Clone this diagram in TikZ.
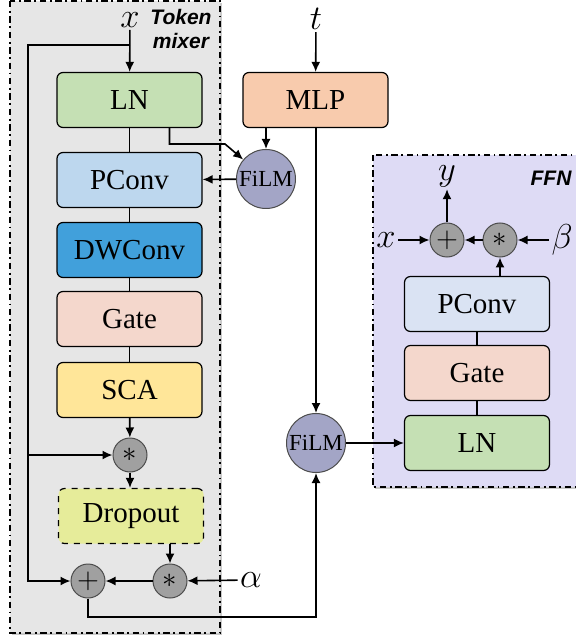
\documentclass[tikz,border=0pt]{standalone}
\usepackage{amsmath}
\usepackage{amssymb}
\usepackage{fontspec}
\setmainfont{Liberation Serif}
\newfontfamily\tagfont{Liberation Sans}
\usetikzlibrary{arrows.meta,shadows}

\definecolor{lngreen}{HTML}{C5E0B4}
\definecolor{pconvblue}{HTML}{BDD7EE}
\definecolor{dwblue}{HTML}{41A0DB}
\definecolor{gatepink}{HTML}{F4D7CC}
\definecolor{scayellow}{HTML}{FFE699}
\definecolor{dropgreen}{HTML}{E6EC9A}
\definecolor{mlppeach}{HTML}{F8CBAD}
\definecolor{filmpurple}{HTML}{A3A5C6}
\definecolor{opgray}{HTML}{A0A0A0}
\definecolor{mixergray}{HTML}{E6E6E6}
\definecolor{ffnlav}{HTML}{DEDBF5}
\definecolor{ffnblue}{HTML}{DAE3F3}

\begin{document}
\begin{tikzpicture}[x=0.5pt,y=-0.5pt]
\useasboundingbox (0,0) rectangle (576,641);
\tikzset{group/.style = {draw,line width=0.75pt,dash pattern=on 3.2pt off 1.8pt on 0.9pt off 1.8pt,
  drop shadow={shadow xshift=1.2pt,shadow yshift=-1.2pt,opacity=0.3,fill=black!70}}}
% containers
\draw[group,fill=mixergray] (10,1) rectangle (220,633);
\draw[group,fill=ffnlav] (373,155) rectangle (600,487);
\node[font=\tagfont\bfseries\itshape\fontsize{10.5}{12}\selectfont,align=center] (tmtag) at (181,29) {Token\\mixer};
\node[font=\tagfont\bfseries\itshape\fontsize{10.5}{12}\selectfont] (ffntag) at (551,178) {FFN};

\tikzset{block/.style = {shape=rectangle,draw,rounded corners=3pt,line width=0.6pt,
  minimum width=72.5pt,minimum height=27.5pt,font=\fontsize{14.5}{16}\selectfont}}
\tikzset{film/.style = {shape=circle,draw=black!70,fill=filmpurple,line width=0.5pt,
  minimum size=29.5pt,inner sep=0pt,font=\fontsize{11.5}{12}\selectfont}}
\tikzset{op/.style = {shape=circle,draw=black!70,fill=opgray,line width=0.5pt,
  minimum size=17pt,inner sep=0pt,font=\fontsize{14}{14}\selectfont}}
\tikzset{sym/.style = {inner sep=1pt,font=\fontsize{18}{20}\selectfont}}
% token mixer
\node[sym] (xin) at (130,20) {$x$};
\node[block,fill=lngreen] (ln) at (129.5,100) {LN};
\node[block,fill=pconvblue] (pconv) at (129.5,180) {PConv};
\node[block,fill=dwblue] (dwconv) at (129.5,250) {DWConv};
\node[block,fill=gatepink] (gate) at (129.5,319) {Gate};
\node[block,fill=scayellow] (sca) at (129.5,390) {SCA};
\node[op] (mul1) at (130,455) {$*$};
\node[block,fill=dropgreen,dashed] (dropout) at (131,516) {Dropout};
\node[op] (mul2) at (170,581) {$*$};
\node[op] (plus1) at (88,581) {$+$};
\node[sym] (alpha) at (251,580) {$\alpha$};
% conditioning
\node[sym] (tin) at (316,19) {$t$};
\node[block,fill=mlppeach] (mlp) at (315.5,100) {MLP};
\node[film] (film1) at (266,179) {FiLM};
\node[film] (film2) at (316,443) {FiLM};
% ffn
\node[block,fill=ffnblue] (fpconv) at (477,304) {PConv};
\node[block,fill=gatepink] (fgate) at (477,373) {Gate};
\node[block,fill=lngreen] (fln) at (477,443) {LN};
\node[op] (plus2) at (447,240) {$+$};
\node[op] (mul3) at (500,240) {$*$};
\node[sym] (yout) at (447,176) {$y$};
\node[sym] (xin2) at (386,240) {$x$};
\node[sym] (beta) at (562,240) {$\beta$};

\coordinate (skiptop) at (130,45);
\coordinate (skipl) at (28,45);
\coordinate (lnbend) at (225,144);
\coordinate (low) at (0,617);
%edges
\tikzset{edge/.style = {-{Latex[length=5pt,width=4.5pt]},line width=0.8pt}}
\tikzset{link/.style = {line width=0.8pt}}
\draw[edge] (xin) -- (ln);
\draw[edge] (skiptop) -- (skipl) |- (plus1);
\draw[edge] (skipl |- mul1) -- (mul1);
\draw[link] (ln) -- (pconv);
\draw[link] (pconv) -- (dwconv);
\draw[link] (dwconv) -- (gate);
\draw[link] (gate) -- (sca);
\draw[edge] (sca) -- (mul1);
\draw[edge] (mul1) -- (dropout.north -| mul1);
\draw[edge] (dropout.south -| mul2) -- (mul2);
\draw[edge] (mul2) -- (plus1);
\draw[edge] (alpha) -- (mul2);
\draw[edge] (plus1) |- (film2 |- low) -- (film2);

\draw[edge] (tin) -- (mlp);
\draw[edge] (mlp.south -| film1) -- (film1);
\draw[edge] (mlp.south -| film2) -- (film2);
\draw[edge] ([xshift=20pt]ln.south) |- (lnbend) -- (film1);
\draw[edge] (film1) -- (pconv);
\draw[edge] (film2) -- (fln);

\draw[link] (fln) -- (fgate);
\draw[link] (fgate) -- (fpconv);
\draw[edge] (fpconv.north -| mul3) -- (mul3);
\draw[edge] (mul3) -- (plus2);
\draw[edge] (xin2) -- (plus2);
\draw[edge] (beta) -- (mul3);
\draw[edge] (plus2) -- (yout);
\end{tikzpicture}
\end{document}
